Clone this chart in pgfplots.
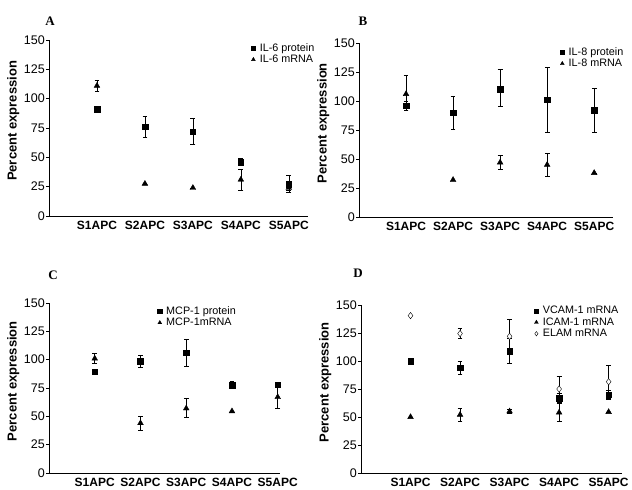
\documentclass[border=0pt]{standalone}
\usepackage{fontspec}
\setmainfont{Liberation Sans}
\newfontfamily\serif{Liberation Serif}
\usepackage{pgfplots}
\usepackage{pgfplotstable}
\pgfplotsset{compat=1.18}

\pgfplotsset{
  panel/.style={
    scale only axis, axis lines*=left, ymin=0, ymax=150, xmin=0,
    ytick={0,25,...,150}, xtick={1,...,5},
    xticklabels={S1APC,S2APC,S3APC,S4APC,S5APC},
    tick align=outside, major tick length=3pt,
    xtick style={draw=none},
    /pgf/number format/assume math mode=true,
    yticklabel style={font=\fontsize{12.5}{12.5}\selectfont, inner sep=1pt},
    xticklabel style={font=\bfseries\fontsize{12}{12}\selectfont, inner sep=1pt, yshift=-1pt},
    ylabel={Percent expression},
    ylabel style={font=\bfseries\fontsize{13}{13}\selectfont, at={(ticklabel cs:0.54)}},
    axis line style={line width=0.7pt},
    ytick style={black, line width=0.6pt},
    legend cell align=left,
    legend style={draw=none, fill=none, anchor=north west, inner sep=0pt, row sep=0pt,
      font=\fontsize{10.8}{12}\selectfont, nodes={inner sep=1.2pt}},
    legend image code/.code={\path (0pt,0pt) (8pt,0pt);
      \draw[##1, mark size=2.2pt] plot coordinates {(3pt,0pt)};},
    clip=false,
  },
  sq/.style={only marks, mark=square*, mark size=2.8pt, black},
  tri/.style={only marks, mark=triangle*, mark size=3.3pt, black},
  dia/.style={only marks, mark=diamond*, mark options={fill=white}, mark size=3.2pt, black},
  ebar/.style={error bars/.cd, y dir=both, y explicit,
    error bar style={line width=0.6pt},
    error mark options={rotate=90, mark size=2.4pt, line width=0.6pt}},
}

% A: IL-6
\pgfplotstableread{
x y ep em
1 91 0 0
2 76 9 9
3 72 11 11
4 46 3 2
5 27 8 7
}\Aprot
\pgfplotstableread{
x y ep em
1 111 5 5
2 27.5 0 0
3 24 0 0
4 31 9 9
5 24 2 2
}\Amrna
% B: IL-8
\pgfplotstableread{
x y ep em
1 96 4 4
2 90 14 14
3 110 17 15
4 101 28 28
5 92 19 19
}\Bprot
\pgfplotstableread{
x y ep em
1 106 16 14
2 32 0 0
3 47 6 6
4 45 10 10
5 38 0 0
}\Bmrna
% C: MCP-1
\pgfplotstableread{
x y ep em
1 89.5 0 0
2 98.5 5.5 5.5
3 106 12 12
4 77.5 3 3
5 78 2 2
}\Cprot
\pgfplotstableread{
x y ep em
1 101 5 4
2 44 6 6
3 57 9 8
4 54.5 0 0
5 67 10 10
}\Cmrna
% D: adhesion molecules
\pgfplotstableread{
x y ep em
1 99.6 0 0
2 94 6 6
3 109 11 11
4 67 4 4
5 70 4 4
}\Dvcam
\pgfplotstableread{
x y ep em
1 50 0 0
2 52 6 6
3 55 2 2
4 54 8 8
5 54.5 0 0
}\Dicam
\pgfplotstableread{
x y ep em
1 140.5 0 0
2 124.5 4.5 4.5
3 122 15 15
4 75 11 11
5 81.5 15 15
}\Delam

\begin{document}
\begin{tikzpicture}
\useasboundingbox (0,0) rectangle (632pt,490pt);

\begin{axis}[panel, at={(49pt,274pt)}, anchor=south west, width=259pt, height=176pt,
  xmax=5.4, legend style={at={(0.776,0.989)}}]
\addplot[sq, ebar] table[x=x, y=y, y error plus=ep, y error minus=em] {\Aprot};
\addlegendentry{IL-6 protein}
\addplot[tri, ebar] table[x=x, y=y, y error plus=ep, y error minus=em] {\Amrna};
\addlegendentry{IL-6 mRNA}
\end{axis}

\begin{axis}[panel, at={(359pt,273pt)}, anchor=south west, width=254pt, height=174pt,
  xmax=5.4, legend style={at={(0.787,0.983)}}]
\addplot[sq, ebar] table[x=x, y=y, y error plus=ep, y error minus=em] {\Bprot};
\addlegendentry{IL-8 protein}
\addplot[tri, ebar] table[x=x, y=y, y error plus=ep, y error minus=em] {\Bmrna};
\addlegendentry{IL-8 mRNA}
\end{axis}

\begin{axis}[panel, at={(49pt,17pt)}, anchor=south west, width=231pt, height=170pt,
  xmax=5.05, legend style={at={(0.465,0.988)}}]
\addplot[sq, ebar] table[x=x, y=y, y error plus=ep, y error minus=em] {\Cprot};
\addlegendentry{MCP-1 protein}
\addplot[tri, ebar] table[x=x, y=y, y error plus=ep, y error minus=em] {\Cmrna};
\addlegendentry{MCP-1mRNA}
\end{axis}

\begin{axis}[panel, at={(361pt,17pt)}, anchor=south west, width=261pt, height=168pt,
  xmax=5.27, legend style={at={(0.659,1.0)}}]
\addplot[sq, ebar] table[x=x, y=y, y error plus=ep, y error minus=em] {\Dvcam};
\addlegendentry{VCAM-1 mRNA}
\addplot[tri, ebar] table[x=x, y=y, y error plus=ep, y error minus=em] {\Dicam};
\addlegendentry{ICAM-1 mRNA}
\addplot[dia, ebar] table[x=x, y=y, y error plus=ep, y error minus=em] {\Delam};
\addlegendentry{ELAM mRNA}
\end{axis}

\node[font=\serif\bfseries\fontsize{13}{13}\selectfont] at (50pt,469pt) {A};
\node[font=\serif\bfseries\fontsize{13}{13}\selectfont] at (363pt,469pt) {B};
\node[font=\serif\bfseries\fontsize{13}{13}\selectfont] at (53pt,215pt) {C};
\node[font=\serif\bfseries\fontsize{13}{13}\selectfont] at (358pt,217pt) {D};
\end{tikzpicture}
\end{document}
